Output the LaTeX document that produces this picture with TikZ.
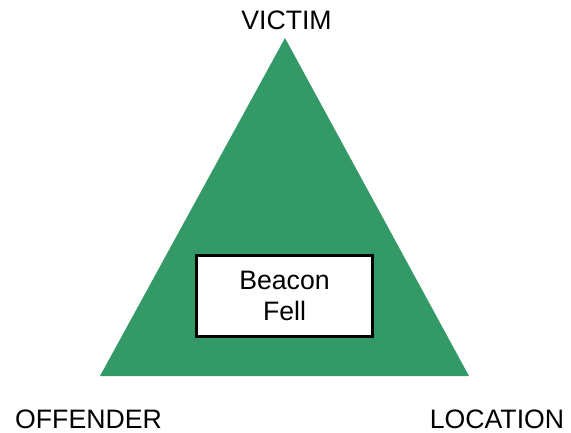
\documentclass[tikz,border=0pt]{standalone}
\usepackage{fontspec}
\setmainfont{Liberation Sans}
\definecolor{tgreen}{HTML}{339966}
\begin{document}
\begin{tikzpicture}[x=0.75pt,y=-0.75pt,
  lbl/.style={font=\fontsize{20pt}{24pt}\selectfont, anchor=base, inner sep=0pt},
  tri/.style={fill=tgreen, draw=none},
  boxst/.style={draw=black, line width=1.6pt, fill=white, minimum width=176*0.75pt, minimum height=81*0.75pt, align=center, font=\fontsize{20pt}{23.25pt}\selectfont, inner sep=0pt}]
\useasboundingbox (0,0) rectangle (571,432);
\coordinate (apex) at (285,38);
\coordinate (bl) at (100,376);
\coordinate (br) at (469,376);
\fill[tri] (apex) -- (br) -- (bl) -- cycle;
\node[boxst] (box) at (284.5,296) {Beacon\\Fell};
\node[lbl] (victim) at (286.5,29) {VICTIM};
\node[lbl] (offender) at (88.5,428) {OFFENDER};
\node[lbl] (location) at (497,428) {LOCATION};
\end{tikzpicture}
\end{document}
